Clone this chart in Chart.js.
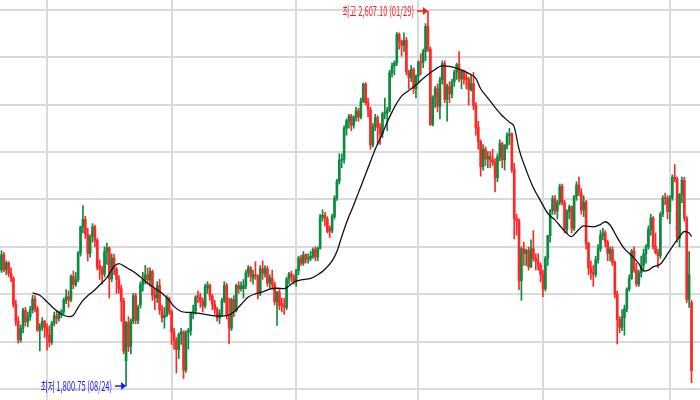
<!DOCTYPE html>
<html>
<head>
<meta charset="utf-8">
<script src="https://cdn.jsdelivr.net/npm/chart.js@4.4.1/dist/chart.umd.min.js"></script>
<style>
html,body{margin:0;padding:0;background:#fff;}
#wrap{width:700px;height:400px;position:relative;}
</style>
</head>
<body>
<div id="wrap"><canvas id="c"></canvas></div>
<script>
// Weekly candles (KOSPI), first week starting 2014-08-25; the fully closed week 2017-10-02 has no candle
const firstWeek = '2014-08-25';
const closedWeeks = ['2017-10-02'];

const opens = [
2050,2083,2051,2066,2043,2032,1976,1940,1900,1925,
1964,1939,1950,1965,1988,1967,1921,1929,1940,1926,
1910,1895,1936,1952,1946,1956,1961,1985,1993,1986,
2037,2019,2029,2087,2143,2159,2127,2086,2122,2143,
2114,2060,2052,2041,2090,2098,2031,2076,2052,2030,
2010,1983,1855,1937,1886,1941,1995,1942,1975,2019,
2030,2040,2029,2047,1996,1990,2017,1965,1948,1953,
1990,1961,1917,1900,1879,1912,1917,1835,1916,1920,
1958,1962,1995,1992,1983,1973,2012,2018,1994,1977,
1966,1947,1957,1985,2017,1953,1925,1987,1963,2017,
2010,2010,2017,2044,2055,2032,2040,2037,2001,2053,
2043,2053,2022,2033,2019,1982,2002,1978,1974,1970,
2031,2042,2035,2026,2049,2076,2065,2083,2073,2075,
2080,2094,2078,2097,2164,2168,2160,2140,2134,2165,
2205,2241,2286,2288,2355,2371,2381,2361,2378,2392,
2379,2414,2450,2410,2395,2319,2358,2378,2357,2343,
2386,2388,2394,2474,2489,2496,2557,2542,2533,2544,
2476,2464,2482,2440,2467,2497,2496,2520,2574,2525,
2363,2421,2440,2402,2459,2494,2417,2445,2429,2455,
2476,2492,2461,2477,2465,2460,2438,2451,2404,2357,
2326,2272,2310,2289,2294,2287,2282,2248,2293,2322,
2287,2318,2339,2343,2267,2161,2156,2027,2096,2086,
2092,2057,2096,2075,2069,2061,2041,2010,2075,2124,
2178,2203,2177,2196,2230,2195,2137,2176,2186,2140,
2209,2233,2216,2179,2196,2108,2055,2045,2041,2072,
2096,2125,2130,2110,2086,2094,2066,1998,1943,1927,
1948,1967,2009,2032,2091,2050,2020,2044,2060,2085,
2100,2137,2162,2101,2087,2081,2170,2205,2204,2176,
2206,2250,2246,2119,2212,2243,2162,1987,1980
];
const highs = [
2092,2088,2070,2068,2055,2036,1985,1950,1932,1968,
1970,1960,1972,1996,1995,1972,1935,1948,1942,1935,
1930,1940,1960,1962,1962,1965,1990,2008,2005,2040,
2048,2045,2090,2145,2189,2166,2140,2126,2150,2147,
2118,2072,2058,2100,2108,2100,2085,2084,2056,2038,
2018,1990,1940,1950,1945,2000,2000,1975,2025,2045,
2060,2055,2055,2050,2010,2025,2030,1975,1970,1995,
1992,1965,1925,1905,1915,1925,1920,1920,1925,1960,
1975,1995,2005,2000,1990,2020,2025,2020,1998,1985,
1970,1965,1990,2025,2022,1990,1990,1995,2020,2025,
2025,2030,2050,2060,2058,2050,2068,2040,2060,2070,
2060,2058,2040,2050,2025,2005,2008,1990,1990,2035,
2045,2048,2040,2052,2080,2082,2090,2085,2085,2090,
2098,2100,2100,2170,2180,2175,2165,2145,2170,2210,
2245,2300,2300,2360,2375,2385,2385,2382,2400,2398,
2420,2452,2453,2420,2400,2365,2385,2382,2365,2390,
2420,2400,2480,2495,2500,2561,2560,2545,2560,2550,
2480,2490,2485,2470,2500,2515,2525,2580,2607.10,2530,
2425,2445,2450,2465,2500,2500,2450,2455,2460,2480,
2495,2520,2480,2480,2475,2465,2470,2475,2410,2370,
2330,2320,2315,2305,2305,2310,2290,2300,2330,2325,
2320,2345,2355,2345,2280,2170,2160,2100,2110,2095,
2100,2115,2135,2085,2085,2065,2050,2080,2125,2180,
2210,2210,2200,2235,2235,2200,2180,2190,2188,2210,
2240,2250,2225,2210,2200,2110,2070,2060,2080,2105,
2135,2140,2135,2115,2100,2100,2070,2005,1950,1965,
1975,2012,2040,2095,2100,2065,2050,2080,2095,2105,
2145,2170,2165,2130,2095,2175,2210,2215,2210,2210,
2255,2277,2250,2215,2250,2250,2165,2090,1985
];
const lows = [
2045,2046,2040,2036,2025,1970,1931,1893,1895,1915,
1930,1928,1942,1958,1960,1918,1876,1920,1905,1878,
1885,1890,1930,1935,1940,1948,1955,1978,1970,1982,
2010,2015,2025,2080,2130,2118,2070,2078,2110,2100,
2050,2030,2020,2035,2062,1990,2025,2040,2000,2000,
1940,1870,1800.75,1875,1870,1935,1935,1935,1968,2005,
2020,2020,2015,1985,1965,1980,1955,1938,1925,1950,
1955,1890,1880,1829,1860,1890,1817,1830,1880,1910,
1945,1955,1980,1970,1960,1968,2000,1985,1965,1955,
1940,1935,1950,1980,1945,1892,1920,1950,1960,2000,
2005,1990,2010,2035,2025,2020,2030,1988,1995,2030,
2035,2015,2010,2010,1975,1931,1965,1960,1955,1965,
2020,2025,2020,2015,2040,2060,2060,2065,2065,2070,
2075,2070,2070,2095,2155,2145,2130,2120,2130,2160,
2200,2235,2270,2280,2340,2355,2350,2355,2370,2370,
2375,2410,2405,2380,2310,2315,2350,2320,2320,2335,
2375,2350,2390,2465,2470,2490,2525,2510,2520,2470,
2440,2455,2430,2420,2455,2470,2485,2500,2520,2361,
2360,2400,2390,2375,2450,2410,2370,2410,2420,2445,
2460,2455,2440,2450,2440,2405,2435,2395,2340,2310,
2252,2265,2275,2270,2270,2275,2218,2240,2285,2270,
2265,2310,2320,2260,2117,2125,2008,1985,2060,2060,
2050,2055,2070,2050,2050,2025,1993,2005,2060,2110,
2170,2170,2160,2190,2190,2130,2130,2160,2130,2135,
2200,2210,2170,2165,2095,2040,2030,2015,2035,2065,
2090,2115,2100,2070,2070,2060,1990,1891,1915,1920,
1910,1960,2005,2030,2045,2015,2015,2035,2050,2065,
2095,2125,2095,2085,2055,2075,2165,2190,2160,2150,
2200,2240,2110,2100,2195,2155,1980,1970,1808
];
const closes = [
2083,2051,2066,2043,2032,1976,1940,1900,1925,1964,
1939,1950,1965,1988,1967,1921,1929,1940,1926,1910,
1895,1936,1952,1946,1956,1961,1985,1993,1986,2037,
2019,2029,2087,2143,2159,2127,2086,2122,2143,2114,
2056,2052,2041,2090,2098,2031,2076,2052,2030,2010,
1983,1876,1937,1886,1941,1995,1942,1970,2019,2030,
2040,2029,2047,1996,1990,2017,1965,1948,1953,1990,
1961,1917,1900,1879,1912,1917,1835,1916,1920,1958,
1962,1992,1992,1983,1973,2015,2018,1994,1977,1966,
1947,1957,1985,2017,1953,1925,1987,1963,2017,2010,
2016,2017,2044,2055,2037,2040,2037,2001,2053,2043,
2053,2022,2033,2019,1982,2002,1974,1974,1970,2031,
2042,2035,2026,2049,2076,2065,2083,2073,2075,2080,
2094,2078,2097,2164,2168,2160,2133,2134,2165,2205,
2241,2286,2288,2355,2371,2381,2361,2378,2392,2379,
2414,2450,2410,2395,2319,2358,2378,2357,2343,2386,
2388,2394,2474,2489,2496,2557,2542,2533,2544,2476,
2464,2482,2440,2467,2497,2496,2520,2574,2525,2363,
2421,2440,2402,2459,2494,2417,2445,2429,2455,2476,
2492,2461,2477,2460,2460,2438,2451,2404,2357,2326,
2272,2310,2289,2294,2287,2282,2248,2293,2322,2287,
2318,2339,2343,2267,2161,2156,2027,2096,2086,2092,
2057,2096,2075,2069,2061,2041,2010,2075,2124,2178,
2203,2177,2196,2230,2195,2137,2176,2186,2140,2209,
2233,2216,2179,2196,2108,2055,2045,2041,2072,2096,
2125,2130,2110,2086,2094,2066,1998,1943,1927,1948,
1967,2009,2032,2091,2050,2020,2044,2060,2085,2100,
2137,2162,2101,2087,2081,2170,2205,2204,2176,2206,
2250,2246,2119,2212,2243,2162,1987,2040,1834
];

// Moving-average line at these week positions
const maWeek = [13,16,19,22,25,28,30,32,34,36,38,41,44,47,49,51,53,55,58,61,
64,67,70,72,75,78,81,85,88,91,94,97,100,103,106,109,112,115,118,120,
122,125,129,132,135,138,140,142,144,147,150,153,156,158,161,164,167,170,173,176,
180,184,187,191,195,198,200,203,206,209,212,214,216,219,222,225,228,231,234,238,
240,243,247,250,252,254,257,260,263,266,268,270,272,275,278,281,283,285,287,288];
const maValue = [2001,1996,1982,1967,1955,1950,1953,1970,1985,1995,2003,2018,2034,2058,2064,2059,2053,2047,2035,2022,
2011,2000,1985,1972,1961,1959,1958,1955,1952,1951,1952,1960,1976,1992,1999,2003,2009,2011,2010,2016,
2024,2029,2032,2040,2052,2070,2090,2122,2152,2190,2230,2270,2310,2332,2368,2400,2424,2436,2448,2462,
2478,2489,2488,2482,2473,2462,2440,2420,2400,2382,2368,2358,2310,2265,2227,2199,2172,2158,2140,2122,
2132,2145,2143,2148,2154,2147,2120,2096,2081,2064,2048,2050,2057,2063,2085,2108,2122,2133,2130,2122];

// Grid positions (year starts on x, price levels on y)
const yearGridWeeks = [19, 71, 123, 174, 226, 279];
const priceGrid = [2610, 2508, 2406, 2304, 2202, 2100, 1998, 1896, 1794];

// Week categories
const weeks = [];
(function(){
  let t = Date.parse(firstWeek + 'T00:00:00Z');
  while (weeks.length < closes.length) {
    const s = new Date(t).toISOString().slice(0, 10);
    if (!closedWeeks.includes(s)) weeks.push(s);
    t += 7 * 86400000;
  }
})();

const upColor = '#0b8b40';
const downColor = '#ff2626';
const candleColor = c => (closes[c.dataIndex] >= opens[c.dataIndex] ? upColor : downColor);

const wickData = weeks.map((w, i) => ({x: i, y: [lows[i], highs[i]]}));
const bodyData = weeks.map((w, i) => ({x: i, y: [opens[i], closes[i]]}));
const maData = maWeek.map((w, k) => ({x: w, y: maValue[k]}));

function drawMark(ctx, text, tipX, tipY, color) {
  ctx.save();
  ctx.strokeStyle = color;
  ctx.fillStyle = color;
  ctx.lineWidth = 1.5;
  ctx.beginPath();
  ctx.moveTo(tipX - 11, tipY);
  ctx.lineTo(tipX - 3, tipY);
  ctx.stroke();
  ctx.beginPath();
  ctx.moveTo(tipX, tipY);
  ctx.lineTo(tipX - 5, tipY - 4);
  ctx.lineTo(tipX - 5, tipY + 4);
  ctx.closePath();
  ctx.fill();
  ctx.translate(tipX - 14, tipY);
  ctx.scale(0.58, 1);
  ctx.font = '13px "Noto Sans CJK KR", "Noto Sans", sans-serif';
  ctx.textAlign = 'right';
  ctx.textBaseline = 'middle';
  ctx.fillText(text, 0, 0);
  ctx.restore();
}

const extremesPlugin = {
  id: 'extremes',
  afterDatasetsDraw(chart) {
    const {ctx, scales: {x, y}} = chart;
    const hi = Math.max(...highs), lo = Math.min(...lows);
    const hiIdx = highs.indexOf(hi), loIdx = lows.indexOf(lo);
    const fmt = v => v.toLocaleString('en-US', {minimumFractionDigits: 2, maximumFractionDigits: 2});
    const md = s => s.slice(5, 7) + '/' + s.slice(8, 10);
    drawMark(ctx, '최고 ' + fmt(hi) + ' (' + md(weeks[hiIdx]) + ')', x.getPixelForValue(hiIdx), y.getPixelForValue(hi), '#ff1a1a');
    drawMark(ctx, '최저 ' + fmt(lo) + ' (' + md(weeks[loIdx]) + ')', x.getPixelForValue(loIdx), y.getPixelForValue(lo), '#1a1aff');
  }
};

const gridStyle = {color: '#dadada', lineWidth: 2, drawTicks: false};

new Chart(document.getElementById('c'), {
  type: 'bar',
  data: {
    datasets: [
      {type: 'line', data: maData, borderColor: '#111111', borderWidth: 1.3, pointRadius: 0,
       cubicInterpolationMode: 'monotone', order: 0},
      {data: bodyData, backgroundColor: candleColor, barThickness: 2, minBarLength: 1, grouped: false, order: 1},
      {data: wickData, backgroundColor: candleColor, barThickness: 1, grouped: false, order: 2}
    ]
  },
  options: {
    responsive: true,
    maintainAspectRatio: false,
    animation: false,
    layout: {padding: 0},
    plugins: {legend: {display: false}, tooltip: {enabled: false}},
    scales: {
      x: {
        type: 'linear', min: -0.6135, max: 291.54, offset: false,
        grid: Object.assign({offset: false}, gridStyle),
        border: {display: false},
        ticks: {display: false},
        afterBuildTicks: s => { s.ticks = yearGridWeeks.map(v => ({value: v})); }
      },
      y: {
        type: 'linear', min: 1770.75, max: 2630.75,
        grid: gridStyle,
        border: {display: false},
        ticks: {display: false},
        afterBuildTicks: s => { s.ticks = priceGrid.map(v => ({value: v})); }
      }
    }
  },
  plugins: [extremesPlugin]
});
</script>
</body>
</html>
